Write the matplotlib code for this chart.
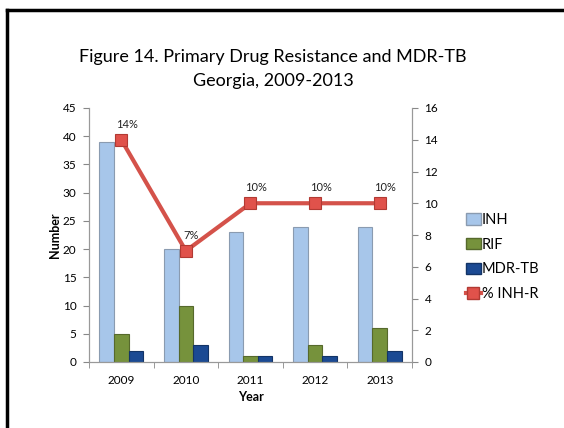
import matplotlib
matplotlib.use("Agg")
import matplotlib.pyplot as plt
import numpy as np
from matplotlib.lines import Line2D

years = ["2009", "2010", "2011", "2012", "2013"]
inh = [39, 20, 23, 24, 24]
rif = [5, 10, 1, 3, 6]
mdr_tb = [2, 3, 1, 1, 2]
pct_inh_r = [14, 7, 10, 10, 10]
pct_labels = ["14%", "7%", "10%", "10%", "10%"]

plt.rcParams["font.family"] = ["Lato", "DejaVu Sans"]

fig = plt.figure(figsize=(5.64, 4.28), dpi=100)
ax = fig.add_axes([89 / 564, 1 - 362 / 428, 323 / 564, 254 / 428])
ax2 = ax.twinx()

x = np.arange(len(years))
w = 0.225
c_inh, e_inh = "#A7C6EA", "#8A9BB0"
c_rif, e_rif = "#76923C", "#56692C"
c_mdr, e_mdr = "#1B4A93", "#133466"

ax.bar(x - w, inh, w, color=c_inh, edgecolor=e_inh, linewidth=0.8, label="INH", zorder=2)
ax.bar(x, rif, w, color=c_rif, edgecolor=e_rif, linewidth=0.8, label="RIF", zorder=2)
ax.bar(x + w, mdr_tb, w, color=c_mdr, edgecolor=e_mdr, linewidth=0.8, label="MDR-TB", zorder=2)

line_color = "#D4524A"
ax2.plot(x, pct_inh_r, color=line_color, linewidth=3, marker="s", markersize=9,
         markerfacecolor="#E0524B", markeredgecolor="#B23A33", markeredgewidth=0.8,
         zorder=3)
for xi, yi, lab in zip(x, pct_inh_r, pct_labels):
    ax2.annotate(lab, (xi, yi), xytext=(4, 11), textcoords="offset points",
                 ha="center", va="center", fontsize=8, color="#222222")

ax.set_xlim(-0.5, 4.5)
ax.set_ylim(0, 45)
ax.set_yticks(range(0, 46, 5))
ax2.set_ylim(0, 16)
ax2.set_yticks(range(0, 17, 2))

ax.set_xticks(x)
ax.set_xticklabels(years, fontsize=8.5)
ax.set_xticks(np.arange(-0.5, 5, 1), minor=True)
ax.tick_params(axis="x", which="major", length=0, pad=9)
ax.tick_params(axis="x", which="minor", length=4, color="#888888", direction="out")
ax.tick_params(axis="y", labelsize=8.5, length=4, color="#888888", pad=5)
ax2.tick_params(axis="y", labelsize=8.5, length=4, color="#888888", pad=5)

for a in (ax, ax2):
    a.spines["top"].set_visible(False)
    for s in ("left", "right", "bottom"):
        a.spines[s].set_color("#999999")
        a.spines[s].set_linewidth(0.8)

ax.set_ylabel("Number", fontsize=9, fontweight="bold", labelpad=1)
ax.set_xlabel("Year", fontsize=9, fontweight="bold", labelpad=4)

fig.text(273 / 564, 1 - 57 / 428, "Figure 14. Primary Drug Resistance and MDR-TB",
         ha="center", va="center", fontsize=13)
fig.text(273 / 564, 1 - 81 / 428, "Georgia, 2009-2013",
         ha="center", va="center", fontsize=13)

handles = [
    plt.Rectangle((0, 0), 1, 1, facecolor=c_inh, edgecolor=e_inh),
    plt.Rectangle((0, 0), 1, 1, facecolor=c_rif, edgecolor=e_rif),
    plt.Rectangle((0, 0), 1, 1, facecolor=c_mdr, edgecolor=e_mdr),
    Line2D([0], [0], color=line_color, linewidth=3, marker="s", markersize=9,
           markerfacecolor="#E0524B", markeredgecolor="#B23A33"),
]
fig.legend(handles, ["INH", "RIF", "MDR-TB", "% INH-R"], loc="upper left",
           bbox_to_anchor=(466 / 564, 1 - 213 / 428), frameon=False, fontsize=10.5,
           handlelength=1.0, handleheight=0.8, handletextpad=0.1, labelspacing=0.73,
           borderaxespad=0, borderpad=0)

# frame around the slide area
fig.add_artist(Line2D([7 / 564, 1], [1 - 10 / 428, 1 - 10 / 428], color="black",
                      linewidth=2.5, transform=fig.transFigure))
fig.add_artist(Line2D([7 / 564, 7 / 564], [0, 1 - 10 / 428], color="black",
                      linewidth=2.5, transform=fig.transFigure))

fig.savefig("out.png", dpi=100)
